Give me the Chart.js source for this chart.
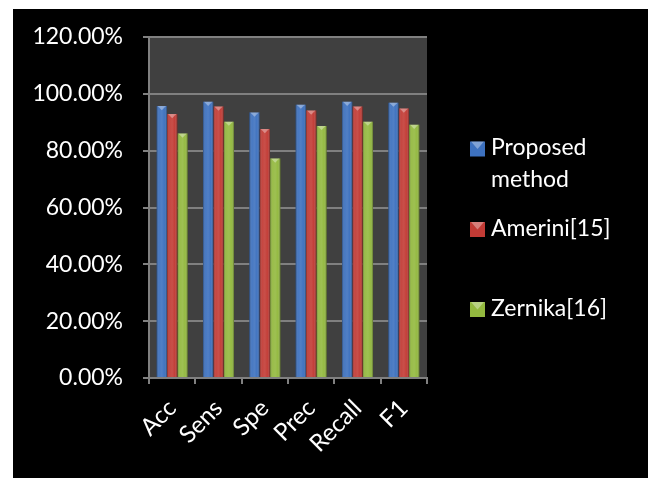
<!DOCTYPE html>
<html>
<head>
<meta charset="utf-8">
<script src="https://cdn.jsdelivr.net/npm/chart.js@4"></script>
<style>
  html, body { margin: 0; padding: 0; background: #fff; }
  #wrap { position: relative; width: 648px; height: 478px; }
</style>
</head>
<body>
<div id="wrap"><canvas id="c" width="648" height="478"></canvas></div>
<script>
const categories = ['Acc', 'Sens', 'Spe', 'Prec', 'Recall', 'F1'];
const proposed = [95.7, 97.2, 93.4, 96.2, 97.2, 96.9];
const amerini = [92.9, 95.5, 87.6, 94.1, 95.5, 94.8];
const zernika = [86.0, 90.2, 77.2, 88.7, 90.2, 89.1];
const seriesNames = [['Proposed', 'method'], ['Amerini[15]'], ['Zernika[16]']];
const yTicks = [0, 20, 40, 60, 80, 100, 120];

const colors = ['#3d71bf', '#c23b35', '#93b93f'];
const FONT = 'Lato, "DejaVu Sans", sans-serif';

const bgPlugin = {
  id: 'plotBg',
  beforeDraw(chart) {
    const { ctx, chartArea: a } = chart;
    ctx.save();
    ctx.fillStyle = '#fff';
    ctx.fillRect(0, 0, chart.width, chart.height);
    ctx.fillStyle = '#000';
    ctx.fillRect(13, 9, chart.width - 13, chart.height - 9);
    ctx.fillStyle = '#404040';
    ctx.fillRect(a.left, a.top, a.right - a.left, a.bottom - a.top);
    ctx.restore();
  }
};

const bevelPlugin = {
  id: 'bevel',
  afterDatasetsDraw(chart) {
    const ctx = chart.ctx;
    ctx.save();
    chart.data.datasets.forEach((ds, di) => {
      const meta = chart.getDatasetMeta(di);
      meta.data.forEach(bar => {
        const w = bar.width, l = bar.x - w / 2, r = bar.x + w / 2, t = bar.y, b = bar.base;
        const g = ctx.createLinearGradient(l, 0, r, 0);
        g.addColorStop(0, 'rgba(0,0,0,0.35)');
        g.addColorStop(0.25, 'rgba(255,255,255,0.06)');
        g.addColorStop(0.5, 'rgba(255,255,255,0.10)');
        g.addColorStop(0.75, 'rgba(255,255,255,0.02)');
        g.addColorStop(1, 'rgba(0,0,0,0.40)');
        ctx.fillStyle = g;
        ctx.fillRect(l, t, w, b - t);
        ctx.fillStyle = 'rgba(255,255,255,0.35)';
        ctx.beginPath();
        ctx.moveTo(l + 1, t);
        ctx.lineTo(r - 1, t);
        ctx.lineTo(bar.x, t + w * 0.4);
        ctx.closePath();
        ctx.fill();
      });
    });
    ctx.restore();
  }
};

const legendPlugin = {
  id: 'sideLegend',
  afterDraw(chart) {
    const ctx = chart.ctx;
    const boxX = 470, textX = 491, size = 15;
    const boxCenters = [149, 229.5, 309.5];
    ctx.save();
    ctx.font = '23px ' + FONT;
    ctx.textBaseline = 'middle';
    ctx.textAlign = 'left';
    seriesNames.forEach((lines, i) => {
      const cy = boxCenters[i];
      ctx.fillStyle = colors[i];
      ctx.fillRect(boxX, cy - size / 2, size, size);
      ctx.fillStyle = 'rgba(255,255,255,0.35)';
      ctx.beginPath();
      ctx.moveTo(boxX + 1, cy - size / 2);
      ctx.lineTo(boxX + size - 1, cy - size / 2);
      ctx.lineTo(boxX + size / 2, cy);
      ctx.closePath();
      ctx.fill();
      ctx.fillStyle = '#fff';
      lines.forEach((ln, k) => {
        ctx.fillText(ln, textX, cy - 1 + k * 32);
      });
    });
    ctx.restore();
  }
};

new Chart(document.getElementById('c'), {
  type: 'bar',
  data: {
    labels: categories,
    datasets: [
      { label: seriesNames[0].join(' '), data: proposed, backgroundColor: colors[0] },
      { label: seriesNames[1].join(' '), data: amerini, backgroundColor: colors[1] },
      { label: seriesNames[2].join(' '), data: zernika, backgroundColor: colors[2] }
    ]
  },
  options: {
    responsive: false,
    animation: false,
    devicePixelRatio: 1,
    layout: { padding: { left: 0, right: 221, top: 37, bottom: 0 } },
    datasets: { bar: { categoryPercentage: 0.67, barPercentage: 1.0 } },
    plugins: {
      legend: { display: false },
      tooltip: { enabled: false }
    },
    scales: {
      x: {
        grid: { drawOnChartArea: false, drawTicks: true, tickLength: 6, color: '#808080', lineWidth: 2, offset: true },
        border: { color: '#808080', width: 2 },
        ticks: {
          color: '#fff', font: { family: FONT, size: 24 },
          minRotation: 45, maxRotation: 45, padding: 10, autoSkip: false
        },
        afterFit(s) { s.height = 100; }
      },
      y: {
        min: 0, max: 120,
        afterBuildTicks(s) { s.ticks = yTicks.map(v => ({ value: v })); },
        grid: { color: '#808080', lineWidth: 2, tickLength: 6, drawTicks: true },
        border: { color: '#808080', width: 2 },
        ticks: {
          color: '#fff', font: { family: FONT, size: 23 }, padding: 20,
          callback: v => v.toFixed(2) + '%'
        },
        afterFit(s) { s.width = 149; }
      }
    }
  },
  plugins: [bgPlugin, bevelPlugin, legendPlugin]
});
</script>
</body>
</html>
